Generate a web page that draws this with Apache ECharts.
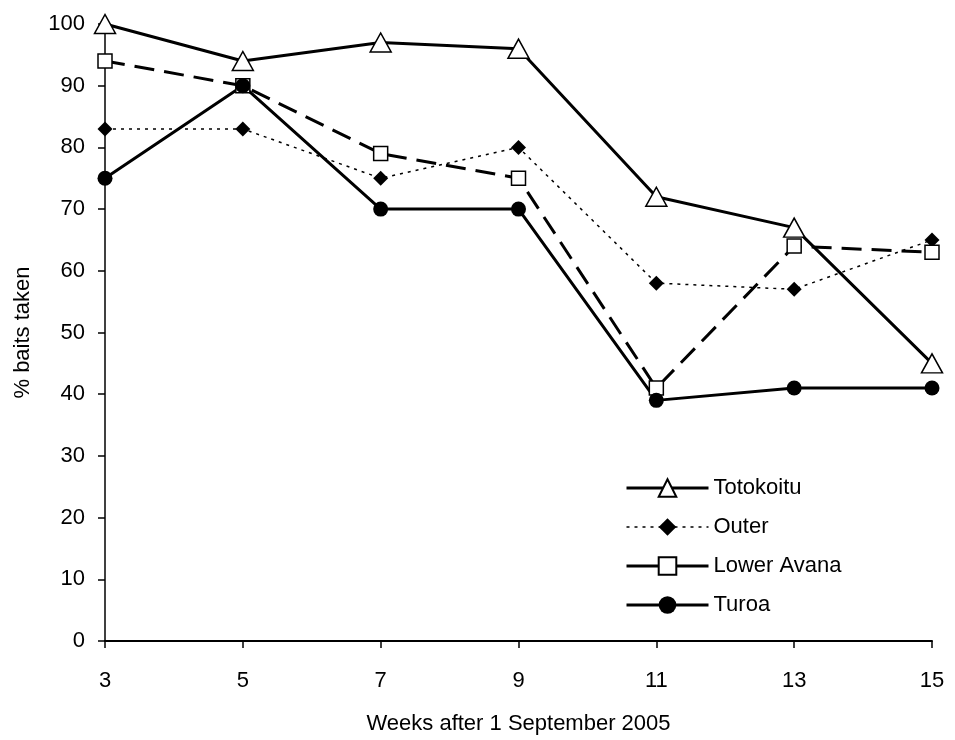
<!DOCTYPE html>
<html><head><meta charset="utf-8">
<script src="https://cdn.jsdelivr.net/npm/echarts@6/dist/echarts.min.js"></script>
<style>html,body{margin:0;padding:0;background:#fff}#c{width:955px;height:740px}</style>
</head><body><div id="c"></div>
<script>
const weeks = [3, 5, 7, 9, 11, 13, 15];
const totokoitu = [100, 94, 97, 96, 72, 67, 45];
const outer = [83, 83, 75, 80, 58, 57, 65];
const lowerAvana = [94, 90, 79, 75, 41, 64, 63];
const turoa = [75, 90, 70, 70, 39, 41, 41];
const seriesNames = ['Totokoitu', 'Outer', 'Lower Avana', 'Turoa'];

const pairs = v => weeks.map((w, i) => [w, v[i]]);
const font = 'Liberation Sans, Arial, sans-serif';
const fs = 22;
const chart = echarts.init(document.getElementById('c'));
chart.setOption({
  animation: false,
  backgroundColor: '#fff',
  grid: {left: 105, right: 23, top: 24, bottom: 90, containLabel: false},
  xAxis: {
    type: 'value', min: 3, max: 15, interval: 2,
    name: 'Weeks after 1 September 2005', nameLocation: 'middle', nameGap: 72,
    nameTextStyle: {fontFamily: font, fontSize: fs, color: '#000'},
    axisLine: {lineStyle: {color: '#000', width: 2}},
    axisTick: {show: true, inside: false, length: 7, lineStyle: {color: '#000', width: 1.5}},
    axisLabel: {fontFamily: font, fontSize: fs, color: '#000', margin: 29},
    splitLine: {show: false}
  },
  yAxis: {
    type: 'value', min: 0, max: 100, interval: 10,
    name: '% baits taken', nameLocation: 'middle', nameGap: 71,
    nameTextStyle: {fontFamily: font, fontSize: fs, color: '#000'},
    axisLine: {show: true, lineStyle: {color: '#000', width: 1.5}},
    axisTick: {show: true, inside: false, length: 7, lineStyle: {color: '#000', width: 1.5}},
    axisLabel: {fontFamily: font, fontSize: fs, color: '#000', margin: 20},
    splitLine: {show: false}
  },
  legend: {
    orient: 'vertical', left: 625, top: 477, padding: 0, itemGap: 17, itemWidth: 82, itemHeight: 22,
    textStyle: {fontFamily: font, fontSize: fs, color: '#000'},
    data: [
      {name: seriesNames[0], lineStyle: {width: 3, type: 'solid'}},
      {name: seriesNames[1], lineStyle: {width: 1.5, type: [3, 5]}},
      {name: seriesNames[2], lineStyle: {width: 3, type: 'solid'}},
      {name: seriesNames[3], lineStyle: {width: 3, type: 'solid'}}
    ]
  },
  series: [
    {name: seriesNames[0], type: 'line', data: pairs(totokoitu), symbol: 'triangle', symbolSize: [21, 19],
     lineStyle: {color: '#000', width: 3}, itemStyle: {color: '#fff', borderColor: '#000', borderWidth: 1.5}},
    {name: seriesNames[1], type: 'line', data: pairs(outer), symbol: 'diamond', symbolSize: 15,
     lineStyle: {color: '#000', width: 1.5, type: [3, 5]}, itemStyle: {color: '#000', borderColor: '#000', borderWidth: 0}},
    {name: seriesNames[2], type: 'line', data: pairs(lowerAvana), symbol: 'rect', symbolSize: 14,
     lineStyle: {color: '#000', width: 3, type: [20, 10]}, itemStyle: {color: '#fff', borderColor: '#000', borderWidth: 1.5}},
    {name: seriesNames[3], type: 'line', data: pairs(turoa), symbol: 'circle', symbolSize: 15,
     lineStyle: {color: '#000', width: 3}, itemStyle: {color: '#000', borderColor: '#000', borderWidth: 0}}
  ]
});
</script></body></html>
